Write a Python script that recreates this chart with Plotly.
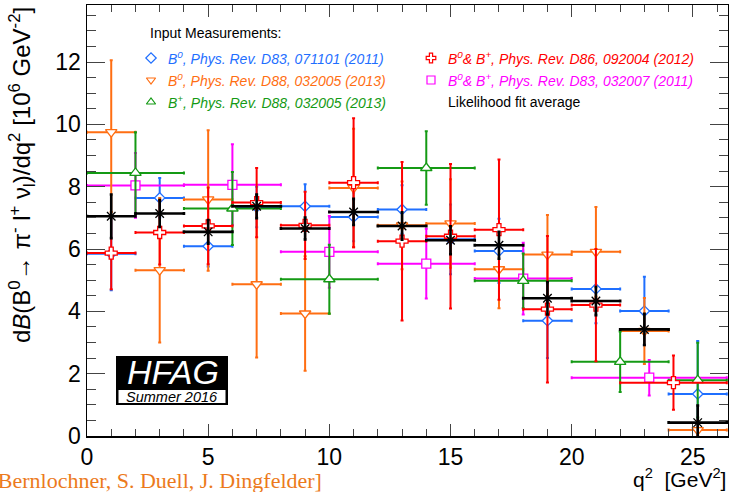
import plotly.graph_objects as go

# ---------------- data ----------------
# Belle 2011, B0 (blue)
blue_edges = [0, 2, 4, 6, 8, 10, 12, 14, 16, 18, 20, 22, 24, 26.4]
blue_x = [1, 3, 5, 7, 9, 11, 13, 15, 17, 19, 21, 23, 25.2]
blue_y = [5.85, 7.64, 6.09, 7.35, 7.37, 7.03, 7.27, 6.31, 5.94, 3.70, 4.72, 4.01, 1.35]
blue_err = [1.17, 0.64, 0.65, 0.65, 0.71, 0.78, 0.78, 1.12, 1.03, 1.20, 1.10, 1.10, 1.70]

# Belle 2013, B0 (orange)
orange_edges = [0, 2, 4, 6, 8, 10, 12, 14, 16, 18, 20, 22, 24, 26.4]
orange_x = [1, 3, 5, 7, 9, 11, 13, 15, 17, 19, 21, 23, 25.2]
orange_y = [9.75, 5.32, 7.59, 4.87, 3.93, 7.96, 6.76, 6.82, 5.35, 5.82, 5.91, 3.37, 0.19]
orange_errp = [2.31, 2.32, 2.22, 2.35, 1.84, 1.90, 1.41, 1.42, 1.25, 1.27, 1.44, 1.06, 0.30]
orange_errm = [2.56, 2.32, 2.29, 2.35, 1.84, 1.90, 1.41, 1.42, 1.25, 1.28, 1.44, 1.06, 0.19]

# Belle 2013, B+ (green)
green_edges = [0, 4, 8, 12, 16, 20, 24, 26.4]
green_x = [2, 6, 10, 14, 18, 22, 25.2]
green_y = [8.44, 7.30, 5.03, 8.60, 4.98, 2.38, 1.79]
green_err = [1.31, 1.17, 1.11, 1.18, 0.88, 0.97, 1.20]

# BaBar 2012, B0 & B+ (red)
red_edges = [0, 2, 4, 6, 8, 10, 12, 14, 16, 18, 20, 22, 26.4]
red_x = [1, 3, 5, 7, 9, 11, 13, 15, 17, 19, 21, 24.2]
red_y = [5.87, 6.53, 6.74, 7.49, 6.76, 8.13, 6.25, 6.41, 6.62, 4.07, 4.20, 1.71]
red_err = [1.16, 1.03, 1.23, 1.11, 1.08, 2.07, 2.54, 2.32, 2.25, 2.35, 1.80, 0.87]

# BaBar 2011, B0 & B+ (magenta)
mag_edges = [0, 4, 8, 12, 16, 20, 26.4]
mag_x = [2, 6, 10, 14, 18, 23.2]
mag_y = [8.04, 8.06, 5.91, 5.53, 5.05, 1.87]
mag_err = [1.04, 1.30, 1.15, 1.12, 1.15, 0.57]

# Likelihood fit average (black)
avg_edges = [0, 2, 4, 6, 8, 10, 12, 14, 16, 18, 20, 22, 24, 26.4]
avg_x = [1, 3, 5, 7, 9, 11, 13, 15, 17, 19, 21, 23, 25.2]
avg_y = [7.05, 7.14, 6.55, 7.37, 6.66, 7.19, 6.74, 6.28, 6.12, 4.42, 4.33, 3.42, 0.43]
avg_err = [0.70, 0.43, 0.38, 0.38, 0.35, 0.42, 0.44, 0.45, 0.43, 0.52, 0.45, 0.50, 0.55]

legend_labels = [
    "<i>B<sup>0</sup>, Phys. Rev. D83, 071101 (2011)</i>",
    "<i>B<sup>0</sup>, Phys. Rev. D88, 032005 (2013)</i>",
    "<i>B<sup>+</sup>, Phys. Rev. D88, 032005 (2013)</i>",
    "<i>B<sup>0</sup>& B<sup>+</sup>, Phys. Rev. D86, 092004 (2012)</i>",
    "<i>B<sup>0</sup>& B<sup>+</sup>, Phys. Rev. D83, 032007 (2011)</i>",
    "Likelihood fit average",
]

BLUE = "#1f6fff"
ORANGE = "#ff6e12"
GREEN = "#149a14"
RED = "#ff0000"
MAG = "#ff00ff"
BLACK = "#000000"

FONT = "Liberation Sans, Arial, sans-serif"

fig = go.Figure()


def add_series(xs, ys, edges, ep, em, color, symbol, lw, msize, fill="white"):
    exp = [edges[i + 1] - xs[i] for i in range(len(xs))]
    exm = [xs[i] - edges[i] for i in range(len(xs))]
    fig.add_trace(go.Scatter(
        x=xs, y=ys, mode="markers",
        marker=dict(symbol=symbol, size=msize, color=fill,
                    line=dict(color=color, width=1.3)),
        error_x=dict(type="data", symmetric=False, array=exp, arrayminus=exm,
                     color=color, thickness=lw, width=1.5),
        error_y=dict(type="data", symmetric=False, array=ep, arrayminus=em,
                     color=color, thickness=lw, width=1.5),
        showlegend=False, cliponaxis=True, hoverinfo="skip",
    ))


add_series(blue_x, blue_y, blue_edges, blue_err, blue_err, BLUE, "diamond", 2, 8)
add_series(mag_x, mag_y, mag_edges, mag_err, mag_err, MAG, "square", 2, 9)
add_series(orange_x, orange_y, orange_edges, orange_errp, orange_errm, ORANGE, "triangle-down", 2, 10)
add_series(green_x, green_y, green_edges, green_err, green_err, GREEN, "triangle-up", 2, 10)
add_series(red_x, red_y, red_edges, red_err, red_err, RED, "cross", 2, 10)
add_series(avg_x, avg_y, avg_edges, avg_err, avg_err, BLACK, "asterisk-open", 2.6, 10, fill=BLACK)

# ---------------- geometry helpers (pixel -> paper) ----------------
W, H = 729, 492
L, R, T, B = 87, 1, 5, 56
PW, PH = W - L - R, H - T - B


def px(xp):
    return (xp - L) / PW


def py(yp):
    return (H - B - yp) / PH


# legend symbols on an overlay axis spanning the plot area [0,1]x[0,1]
leg_sym = ["diamond", "triangle-down", "triangle-up", "cross", "square", "asterisk-open"]
leg_col = [BLUE, ORANGE, GREEN, RED, MAG, BLACK]
leg_px = [151, 151, 151, 431, 431, 431]
leg_py = [58, 80, 102, 58, 80, 102]
for s, c, xx, yy in zip(leg_sym, leg_col, leg_px, leg_py):
    fig.add_trace(go.Scatter(
        x=[px(xx)], y=[py(yy)], xaxis="x2", yaxis="y2", mode="markers",
        marker=dict(symbol=s, size=8 if s != "asterisk-open" else 6, color="white",
                    line=dict(color=c, width=1.2)),
        showlegend=False, hoverinfo="skip"))

ann = []
ann.append(dict(x=px(148), y=py(33), xref="paper", yref="paper", text="Input Measurements:",
                showarrow=False, xanchor="left", yanchor="middle",
                font=dict(family=FONT, size=14, color="black")))
for lab, c, xx, yy in zip(legend_labels, leg_col, leg_px, leg_py):
    ann.append(dict(x=px(xx + 15), y=py(yy), xref="paper", yref="paper", text=lab,
                    showarrow=False, xanchor="left", yanchor="middle",
                    font=dict(family=FONT, size=14, color=c)))

# axis titles
ann.append(dict(x=px(22), y=1.0, xref="paper", yref="paper",
                text="d<i>B</i>(B<sup>0</sup>→ π<sup>-</sup> l<sup>+</sup> ν<sub>l</sub>)/dq<sup>2</sup> [10<sup>6</sup> GeV<sup>-2</sup>]",
                textangle=-90, showarrow=False, xanchor="center", yanchor="top",
                font=dict(family=FONT, size=24, color="black")))
ann.append(dict(x=px(728), y=py(478), xref="paper", yref="paper",
                text="q<sup>2</sup>  [GeV<sup>2</sup>]", showarrow=False,
                xanchor="right", yanchor="middle",
                font=dict(family=FONT, size=21, color="black")))
# credit line (cut at left edge)
ann.append(dict(x=px(324), y=py(481), xref="paper", yref="paper",
                text="[F. Bernlochner, S. Duell, J. Dingfelder]", showarrow=False,
                xanchor="right", yanchor="middle",
                font=dict(family="Liberation Serif, Times New Roman, serif", size=22, color="#ec7a1c")))
# HFAG logo
ann.append(dict(x=px(173), y=py(372), xref="paper", yref="paper", text="<i>HFAG</i>",
                showarrow=False, xanchor="center", yanchor="middle",
                font=dict(family=FONT, size=34, color="white")))
ann.append(dict(x=px(172), y=py(396.5), xref="paper", yref="paper", text="<i>Summer 2016</i>",
                showarrow=False, xanchor="center", yanchor="middle",
                font=dict(family=FONT, size=14.5, color="black")))

shapes = [
    dict(type="rect", xref="paper", yref="paper", x0=px(116), x1=px(228), y0=py(405), y1=py(356),
         fillcolor="black", line=dict(width=0), layer="above"),
    dict(type="rect", xref="paper", yref="paper", x0=px(118), x1=px(226), y0=py(403.5), y1=py(389.5),
         fillcolor="white", line=dict(color="black", width=1), layer="above"),
]

fig.update_layout(
    width=W, height=H,
    margin=dict(l=L, r=R, t=T, b=B, autoexpand=False),
    paper_bgcolor="white", plot_bgcolor="white",
    showlegend=False, hovermode=False,
    annotations=ann, shapes=shapes,
    xaxis=dict(range=[0, 26.45], dtick=5, tick0=0, ticks="inside", ticklen=12, tickwidth=1,
               minor=dict(dtick=1, ticks="inside", ticklen=7, tickwidth=1),
               showline=True, linecolor="black", linewidth=1.5, mirror="allticks",
               showgrid=False, zeroline=False, automargin=False,
               tickfont=dict(family=FONT, size=23, color="black")),
    yaxis=dict(range=[0, 13.83], dtick=2, tick0=0, ticks="inside", ticklen=18, tickwidth=1,
               minor=dict(dtick=0.5, ticks="inside", ticklen=9, tickwidth=1),
               showline=True, linecolor="black", linewidth=1.5, mirror="allticks",
               showgrid=False, zeroline=False, automargin=False,
               tickfont=dict(family=FONT, size=23, color="black")),
    xaxis2=dict(overlaying="x", range=[0, 1], visible=False),
    yaxis2=dict(overlaying="y", range=[0, 1], visible=False),
)

fig.write_html("out.html", config={"displayModeBar": False, "staticPlot": True},
               post_script="document.body.style.margin='0';document.body.style.overflow='hidden';")
